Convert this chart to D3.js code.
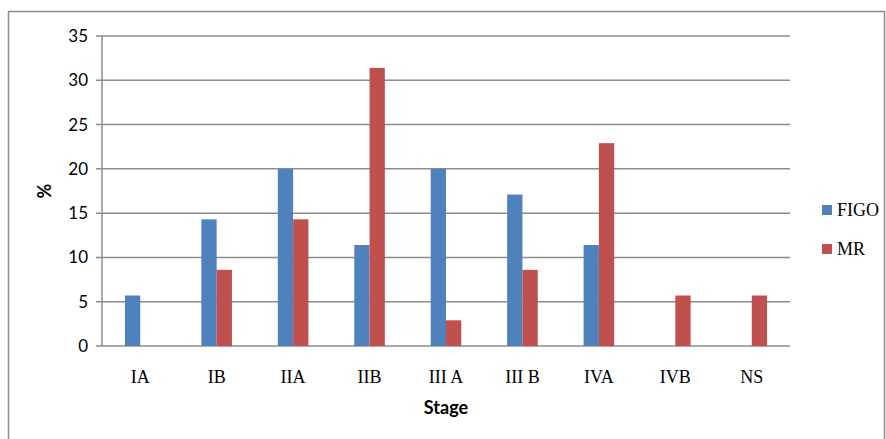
<!DOCTYPE html>
<html>
<head>
<meta charset="utf-8">
<script src="https://cdn.jsdelivr.net/npm/d3@7"></script>
<style>
  html, body { margin: 0; padding: 0; background: #fff; }
  svg { display: block; }
</style>
</head>
<body>
<svg id="chart" width="886" height="439"></svg>
<script>
// Distribution of stage (%) by FIGO staging and MR staging
const stages = ["IA", "IB", "IIA", "IIB", "III A", "III B", "IVA", "IVB", "NS"];
const figo = [5.7, 14.3, 20.0, 11.4, 20.0, 17.1, 11.4, 0, 0];
const mr   = [0, 8.6, 14.3, 31.4, 2.9, 8.6, 22.9, 5.7, 5.7];
const seriesNames = ["FIGO", "MR"];
const seriesColors = ["#4f81bd", "#c0504d"];
const yTicks = [0, 5, 10, 15, 20, 25, 30, 35];

const svg = d3.select("#chart");
const margin = { left: 102, right: 96, top: 36, bottom: 93 };
const W = 886, H = 439;
const plotW = W - margin.left - margin.right;
const plotH = H - margin.top - margin.bottom;

// outer frame
svg.append("rect")
  .attr("x", 8.5).attr("y", 11.5)
  .attr("width", 876).attr("height", 440)
  .attr("fill", "none").attr("stroke", "#8c8c8c").attr("stroke-width", 1.5);

const g = svg.append("g").attr("transform", `translate(${margin.left},${margin.top})`);

const x = d3.scaleBand().domain(stages).range([0, plotW]).paddingInner(0).paddingOuter(0);
const y = d3.scaleLinear().domain([0, 35]).range([plotH, 0]);
const barW = x.bandwidth() / 5; // two bars + 150% gap
const xs = d3.scaleBand().domain(seriesNames).range([0, barW * 2]);

// gridlines with short ticks on the left
g.append("g")
  .selectAll("line")
  .data(yTicks)
  .join("line")
  .attr("x1", -6).attr("x2", plotW)
  .attr("y1", d => y(d)).attr("y2", d => y(d))
  .attr("stroke", "#8c8c8c").attr("stroke-width", 1.5);

// y axis line
g.append("line")
  .attr("x1", 0).attr("x2", 0).attr("y1", 0).attr("y2", plotH)
  .attr("stroke", "#8c8c8c").attr("stroke-width", 1.5);

// y tick labels
g.append("g")
  .selectAll("text")
  .data(yTicks)
  .join("text")
  .attr("x", -14).attr("y", d => y(d))
  .attr("dy", "0.35em")
  .attr("text-anchor", "end")
  .attr("font-family", "Lato, 'Open Sans', sans-serif")
  .attr("font-size", 17)
  .attr("fill", "#000")
  .text(d => d);

// bars
const series = [figo, mr];
series.forEach((vals, si) => {
  g.append("g")
    .selectAll("rect")
    .data(stages.map((s, i) => ({ s, v: vals[i] })))
    .join("rect")
    .attr("x", d => x(d.s) + (x.bandwidth() - barW * 2) / 2 + xs(seriesNames[si]))
    .attr("y", d => y(d.v))
    .attr("width", barW)
    .attr("height", d => plotH - y(d.v))
    .attr("fill", seriesColors[si]);
});

// category labels
g.append("g")
  .selectAll("text")
  .data(stages)
  .join("text")
  .attr("x", d => x(d) + x.bandwidth() / 2)
  .attr("y", plotH + 37)
  .attr("text-anchor", "middle")
  .attr("font-family", "'Liberation Serif', serif")
  .attr("font-size", 18)
  .attr("fill", "#000")
  .text(d => d);

// axis titles
svg.append("text")
  .attr("x", margin.left + plotW / 2).attr("y", 414)
  .attr("text-anchor", "middle")
  .attr("font-family", "Lato, 'Open Sans', sans-serif")
  .attr("font-weight", "bold")
  .attr("font-size", 18)
  .text("Stage");

svg.append("text")
  .attr("transform", `translate(51, ${margin.top + plotH / 2}) rotate(-90)`)
  .attr("text-anchor", "middle")
  .attr("font-family", "Lato, 'Open Sans', sans-serif")
  .attr("font-weight", "bold")
  .attr("font-size", 18)
  .text("%");

// legend
const legend = svg.append("g").attr("transform", "translate(822, 210)");
seriesNames.forEach((name, i) => {
  const row = legend.append("g").attr("transform", `translate(0, ${i * 39})`);
  row.append("rect").attr("x", 0).attr("y", -5).attr("width", 10).attr("height", 10)
    .attr("fill", seriesColors[i]);
  row.append("text").attr("x", 15).attr("y", 0).attr("dy", "0.35em")
    .attr("font-family", "'Liberation Serif', serif")
    .attr("font-size", 18)
    .text(name);
});
</script>
</body>
</html>
